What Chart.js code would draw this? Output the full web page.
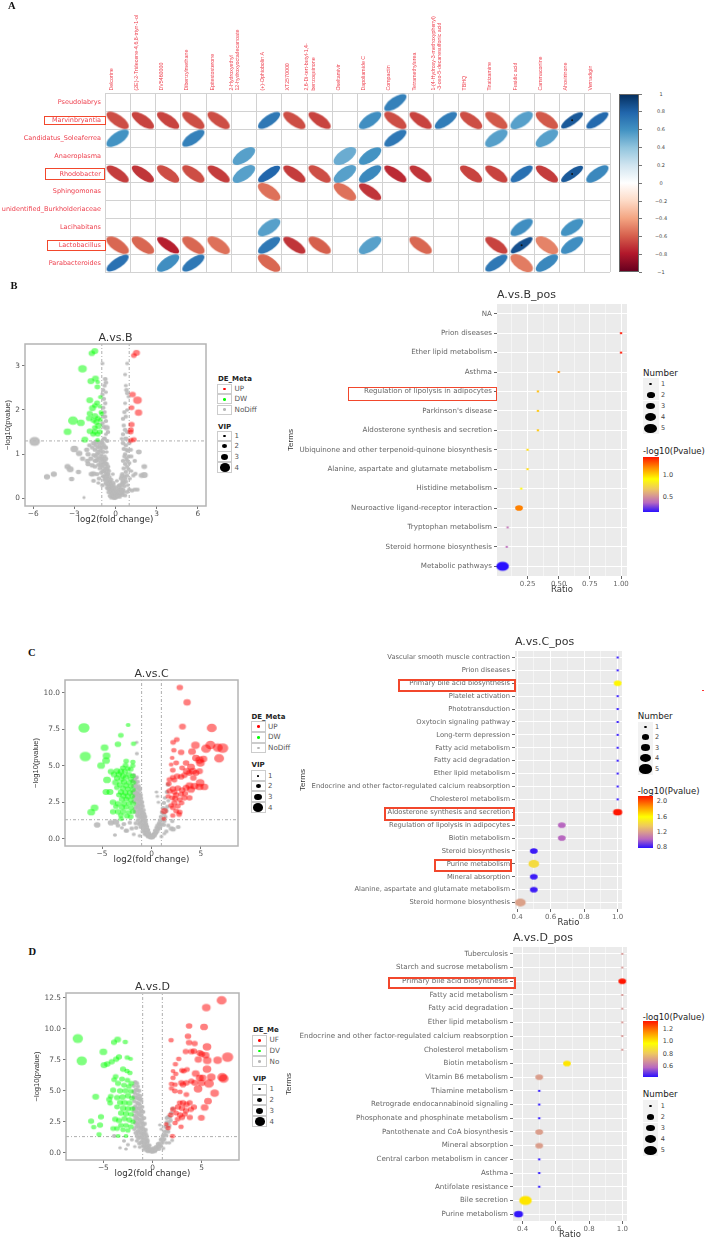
<!DOCTYPE html>
<html lang="en">
<head>
<meta charset="UTF-8">
<title>Correlation, volcano and pathway plots</title>
<script src="https://cdnjs.cloudflare.com/ajax/libs/Chart.js/4.4.1/chart.umd.min.js"></script>
<style>
  html, body { margin: 0; padding: 0; background: #fff; overflow: hidden; }
  #page { position: relative; width: 707px; height: 1239px; overflow: hidden; font-family: "DejaVu Sans", sans-serif; }
  #page canvas { position: absolute; }
  .t { position: absolute; white-space: nowrap; line-height: 1; transform: translateY(-50%); color: #333; }
  .b { position: absolute; box-sizing: border-box; }
</style>
</head>
<body>
<div id="page"></div>
<script>
// ---------- panel A ----------
const corrCols = ['Delcorine', '(2E)-2-Tridecene-4,6,8-triyn-1-ol', 'DV5460000', 'Dibenzylmethane', 'Epitestosterone',
  '2-Hydroxyethyl\n12-hydroxyoctadecanoate', '(+)-Ophiobolin A', 'XT2570000', '2,6-Di-tert-butyl-1,4-\nbenzoquinone', 'Oseltamivir',
  'Dapoliamide C', 'Compactin', 'Tetramethylurea', '1-(4-Hydroxy-3-methoxyphenyl)\n-3-oxo-5-decanesulfonic acid', 'TBHQ',
  'Tiratizamine', 'Fusidic acid', 'Cammaconine', 'Ahovirinone', 'Vernadigin'];
const corrRows = ['Pseudolabrys', 'Marvinbryantia', 'Candidatus_Soleaferrea', 'Anaeroplasma', 'Rhodobacter', 'Sphingomonas',
  'unidentified_Burkholderiaceae', 'Lacihabitans', 'Lactobacillus', 'Parabacteroides'];
const rPseudolabrys = [0,0,0,0,0,0,0,0,0,0,0,.68,0,0,0,0,0,0,0,0];
const rMarvinbryantia = [-.65,-.68,-.68,-.65,-.65,0,.72,-.65,-.68,0,.62,-.65,-.68,.7,-.65,-.62,.55,-.62,.85,.78];
const rCandidatus = [.6,0,0,.68,0,0,0,0,0,0,0,.72,0,0,0,.55,0,.55,0,0];
const rAnaeroplasma = [0,0,0,0,0,.55,0,0,0,.5,.6,0,0,0,0,0,0,0,0,0];
const rRhodobacter = [-.7,-.72,-.65,-.65,-.7,.55,.8,-.7,-.65,.55,.65,-.75,-.72,0,-.68,-.68,.75,-.7,.85,.65];
const rSphingomonas = [0,0,0,0,0,0,-.55,0,0,-.55,-.72,0,0,0,0,0,0,0,0,0];
const rBurkholderiaceae = [0,0,0,0,0,0,0,0,0,0,0,0,0,0,0,0,0,0,0,0];
const rLacihabitans = [0,0,0,0,0,0,.55,0,0,0,0,0,0,0,0,0,.62,0,.6,0];
const rLactobacillus = [-.58,-.58,-.78,-.58,-.55,0,.72,-.72,-.6,0,.55,0,-.58,0,0,-.68,.88,-.5,.62,0];
const rParabacteroides = [.75,0,.62,.72,0,0,-.58,0,0,0,0,0,0,0,0,.72,-.52,.65,0,0];
const corrSig = [['Ahovirinone', 'Marvinbryantia'], ['Ahovirinone', 'Rhodobacter'], ['Fusidic acid', 'Lactobacillus']];
const corrTicks = ['1', '0.8', '0.6', '0.4', '0.2', '0', '−0.2', '−0.4', '−0.6', '−0.8', '−1'];

// ---------- volcano points: [log2 fold change, -log10 p, VIP] ----------
const bUp = [[1.53,3.29,2.6],[1.34,3.23,2],[1.24,2.35,2.4],[1.6,2.22,3.4],[1.17,2.05,2],[1.68,1.94,2.8],[1.17,1.67,2.2],[1.12,1.55,2],[1.1,1.5,2],[1.34,1.33,2],[1.12,1.31,2]];
const bDown = [[-1.51,3.33,2.6],[-1.73,3.28,2.4],[-2.41,2.93,3.4],[-1.46,2.71,2.6],[-1.8,2.65,2.6],[-1.3,2.63,1.6],[-1.32,2.52,2],[-1.1,2.29,1.6],[-1.88,2.22,2.6],[-1.34,2.16,2],[-1.15,2.08,1.6],[-1.68,2.04,2.6],[-1.5,2.1,2],[-1.07,1.95,1.6],[-1.88,1.92,2.2],[-1.02,1.91,1.6],[-3.1,1.76,4],[-2.53,1.71,3],[-1.92,1.81,2.4],[-1.51,1.86,2.6],[-1.27,1.81,2],[-1.39,1.73,2.4],[-1.1,1.78,1.6],[-1.24,1.64,2.6],[-1.51,1.6,2],[-1.6,1.76,2],[-3.5,1.51,3],[-1.87,1.52,2.4],[-1.5,1.51,2.2],[-1.14,1.51,2],[-1.63,1.45,2],[-1.3,1.45,2],[-2.24,1.33,2.6],[-1.31,1.32,1.6]];
const bNone = [[-5.9,1.29,4.4],[-3,1.12,3],[-2.65,1.02,2.4],[-3.5,.72,2.2],[-3.3,.66,2.6],[-4.5,.55,2.2],[-5,.49,2.2],[-3.2,.44,1.8],[-2.7,.6,1.8],[2.1,.72,2],[2.1,.53,2.6],[1.9,.52,2],[-2.3,.02,.8],[-.95,3.05,1.2],[.85,3.05,1.2],[.7,2.8,1.2],[-.75,2.7,1.6],[-.7,2.62,1.6],[-.8,2.55,1.4],[-.9,2.45,1.4],[-.95,2.35,1.4],[-.7,2.4,1.2],[-.85,2.25,1.4],[.8,2.45,1.6],[.85,2.38,1.4],[.95,2.3,1.2],[.75,2.55,1.2],[.7,2.15,1.2],[-.75,2.15,1.4],[-.9,2.05,1.6],[-.8,1.95,1.4],[.65,1.95,1.4],[.75,1.85,1.4],[.55,1.8,1.4],[.85,2,1.2],[-.85,1.85,1.6],[-.7,1.75,1.4],[-.95,1.7,1.6],[-.65,1.6,2.2],[.6,1.65,1.4],[.7,1.55,1.6],[.85,1.5,1.4],[.55,1.45,1.4],[.45,1.35,1.2],[.75,1.35,1.8],[-.7,1.45,1.2],[-.85,1.35,1.6],[-.6,1.3,1.4],[-.95,1.25,1.6],[-1.2,1.25,1.6],[-1,1.28,1.6],[-.85,1.2,1.6],[-1.3,1.15,1.6],[-1.5,1.1,1.6],[-1.1,1.08,1.6],[-.9,1.05,1.6],[-1.35,1,1.6],[-.75,1.15,1.6],[-1.05,.98,1.6],[-1.6,.98,1.6],[-.8,.95,1.6],[-1.2,.92,1.6],[-.95,.88,1.6],[-1.4,.85,1.6],[-.7,.9,1.6],[-1.1,.82,1.6],[-.85,.8,1.6],[-1.25,.76,1.6],[-.65,.78,1.6],[-.95,.72,1.6],[-.75,.68,1.6],[-1.5,.72,1.6],[-1.15,.68,1.6],[-.6,.65,1.6],[-.85,.62,1.6],[-1.05,.58,1.6],[-.7,.58,1.6],[-1.6,.56,2],[-1.75,.55,2],[-.55,.55,1.6],[-.9,.5,1.6],[-.65,.48,1.6],[-.45,.48,1.6],[-1.2,.45,1.6],[-.8,.42,1.6],[-.55,.4,1.6],[-.4,.38,1.6],[-.7,.35,1.6],[-.95,.3,1.6],[-.5,.3,1.6],[-.3,.3,1.6],[-.6,.24,1.6],[-.4,.2,1.6],[-.25,.22,1.6],[-.5,.14,1.6],[-.3,.12,1.6],[-.15,.15,1.6],[-.4,.06,1.6],[-.2,.05,1.6],[-.08,.08,1.6],[0,.02,1.6],[-.3,.02,1.6],[-.1,.01,1.6],[-2,1,1.8],[-2.1,1.1,1.8],[-2.05,.85,1.8],[-1.8,.9,1.8],[-1.7,.75,1.8],[-2,.78,1.8],[-2.4,.9,1.8],[.15,.05,1.6],[.3,.04,1.6],[.1,.1,1.6],[.25,.15,1.6],[.4,.12,1.6],[.5,.08,1.6],[.35,.22,1.6],[.55,.2,1.6],[.2,.2,1.6],[.45,.3,1.6],[.65,.28,1.6],[.3,.3,1.6],[.55,.4,1.6],[.75,.38,1.6],[.4,.45,1.6],[.65,.5,1.6],[.85,.52,1.4],[.5,.55,1.6],[.75,.6,1.4],[.6,.68,1.6],[.95,.66,1.4],[.85,.72,1.4],[.7,.78,1.4],[1,.8,1.4],[.55,.85,1.4],[.8,.9,1.4],[.95,.95,1.4],[1.15,.95,1.4],[.7,1,1.4],[.9,1.08,1.6],[.6,1.12,1.4],[1.1,1.1,1.6],[.75,1.2,1.6],[1,1.25,1.4],[.55,1.25,1.6],[1.4,.85,1.4],[1.3,.52,1.4],[1.45,.56,1.4],[1.4,.2,1.4],[1.2,.18,1.4],[1,.2,1.4],[.85,.15,1.4],[.6,.15,1.4],[.7,.07,1.4],[1.7,1.05,2],[-.1,.2,1.6],[.05,.25,1.4],[-.15,.35,1.4],[.1,.4,1.2],[-.2,.55,1.2]];
const bNoneDense = [[-1.4,1.28,1.8],[-1.15,1.18,1.8],[-1.45,1.2,1.6],[-1.25,1.05,1.8],[-1,1.15,1.8],[-1.45,.95,1.6],[-1.3,.88,1.8],[-1,.9,1.8],[-1.05,.75,1.8],[-.8,.85,1.8],[-.9,.62,1.8],[-.75,.78,1.8],[-.65,.68,1.8],[-.78,.5,1.8],[-.55,.72,1.6],[-.6,.55,1.8],[-.5,.62,1.6],[-.7,.45,1.8],[-.35,.42,1.8],[-.45,.35,1.8],[-.6,.32,1.8],[-.35,.28,1.8],[-.5,.22,1.8],[-.2,.3,1.8],[-.3,.18,1.8],[-.15,.25,1.6],[-.2,.1,2],[-.05,.15,1.8],[.05,.05,2],[.2,.08,2],[.08,.16,1.8],[.3,.13,2],[.4,.2,1.8],[.45,.15,1.8],[.25,.28,1.6],[.5,.35,1.6],[.6,.35,1.6],[.45,.5,1.6],[.7,.45,1.6],[-1.6,.4,1.6],[-1.35,.55,1.6],[-1.5,.85,1.6],[-1.7,1.15,1.6],[-1.9,1.2,1.6],[-1.6,1.25,1.8],[-1.25,.35,1.2],[.85,.85,1.4],[.65,.95,1.4],[.8,1.1,1.4],[1.05,.45,1.2],[.9,.3,1.2],[1.15,.62,1.2],[1.6,.2,1.4],[-.7,1.15,1.4],[-.65,1.05,1.2],[-.78,1.35,1.4],[-.55,1.5,1.4],[-.85,1.62,1.4],[-.75,1.85,1.4]];

const cUp = [[2.86,10.36,2.4],[3.6,9.34,2.8],[3.13,7.68,2.6],[6.09,7.59,4],[2.56,6.79,2],[2.19,6.6,2],[4.44,6.4,3.4],[5.96,6.42,4],[5.52,6.17,4],[7.2,6.2,4.6],[6.7,6.24,4],[4.1,5.97,3],[2.26,6.06,1.8],[3,5.92,2.4],[5.25,5.47,3],[6.84,5.51,4],[2.09,5.54,1.6],[4.5,5.53,3],[4.85,5.38,3.4],[4.95,5.19,3.4],[3.5,5.19,2.4],[2.5,5.19,2],[1.99,5.08,1.6],[4,4.92,3],[3.1,4.85,2],[2.15,4.69,2],[3.57,4.62,3],[4.18,4.62,3],[4.85,4.62,2.6],[3.84,4.51,2.6],[4.5,4.51,2.6],[2.6,4.28,2.4],[3,4.24,2.4],[2.15,4.2,2],[3.33,4.35,2.4],[4.24,4.17,2.4],[1.82,4.05,2],[2.32,4.01,2],[1.75,3.76,2],[4.92,3.83,3.4],[5.35,3.55,3],[4.85,3.55,3],[3.84,3.64,3],[4.34,3.6,3],[3.5,3.49,2.6],[2.66,3.46,2.4],[2.15,3.42,2.4],[1.82,3.26,2.2],[2.32,3.19,2.2],[4,3.37,3],[3.1,3.33,2.4],[3.84,2.8,2.2],[3.33,2.8,2.2],[2.5,3,2.2],[2.1,2.8,2],[2.85,2.68,2],[2.32,2.45,2.2],[2,2.27,2],[3.03,2.45,2],[2.66,2.23,2],[2.15,2.12,2],[1.3,1.89,2.6],[2.5,1.89,2],[2.85,1.82,2],[2.8,1.66,2],[2.15,1.59,1.8],[1.25,1.37,1.6],[3,3.05,2],[2.4,2.75,2.2],[3.4,3.1,2.2],[1.7,2.9,1.8]];
const cDown = [[-6.84,7.59,4.6],[-2.36,7.79,1.6],[-3.1,7.08,2],[-1.82,6.51,1.8],[-3.4,6.47,2.4],[-4.75,6.24,3],[-6.7,5.63,4.6],[-4.55,5.69,3],[-4.6,5.35,3],[-5.1,5.01,3],[-2.56,5.31,2],[-1.89,5.26,1.8],[-2.63,5.03,2],[-1.9,5,1.8],[-2.9,4.85,2],[-2.4,4.8,2],[-2.1,4.75,2],[-4.1,4.6,2.4],[-3.5,4.65,2.4],[-3.1,4.6,2.4],[-2.7,4.6,2.2],[-3.8,4.4,2.4],[-3.3,4.4,2.4],[-2.9,4.3,2.2],[-2.3,4.4,2.2],[-1.9,4.3,2],[-2.6,4.2,2.2],[-3.5,4.15,2.2],[-2.1,4.1,2],[-3.05,4.05,2],[-4.5,4.03,3],[-3.64,3.85,2.6],[-2.8,3.9,2.2],[-2.3,3.85,2],[-1.85,3.85,2],[-3.2,3.7,2.2],[-2.6,3.65,2.2],[-2.1,3.6,2],[-3.5,3.5,2],[-2.9,3.45,2.2],[-2.4,3.4,2],[-1.9,3.35,2],[-3.1,3.2,2.2],[-2.65,3.15,2.2],[-2.2,3.15,2.2],[-4.6,3.2,2.6],[-4.2,3.2,2.6],[-3.3,3,2],[-2.85,2.95,2.2],[-2.4,2.9,2.2],[-1.95,2.9,2],[-3,2.7,2.2],[-2.55,2.7,2],[-2.1,2.65,2],[-3.9,2.5,2.4],[-3.4,2.4,2.2],[-2.8,2.4,2.2],[-2.3,2.4,2],[-1.85,2.4,2],[-3.6,2.2,2],[-3,2.15,2.2],[-2.55,2.15,2],[-2.05,2.1,2],[-3.9,1.85,2.2],[-3.4,1.85,2.2],[-2.85,1.85,2.2],[-2.3,1.8,2],[-1.9,1.85,2],[-3.1,1.6,2],[-2.5,1.55,2],[-2.1,1.5,2],[-3.06,1.37,1.8],[-5.76,2.12,3],[-6.1,1.82,3]];
const cNone = [[-1.48,5.83,1.2],[-1.5,6.6,1],[-1.8,4.35,1.4],[-1.5,4.2,1.4],[-1.7,4,1.4],[-1.4,3.9,1.4],[-1.6,3.75,1.4],[-1.85,3.6,1.4],[-1.3,3.6,1.4],[-1.5,3.45,1.4],[-1.75,3.3,1.4],[-1.2,3.3,1.4],[-1.45,3.15,1.4],[-1.7,3,1.4],[-1.1,3,1.4],[-1.35,2.85,1.4],[-1.6,2.7,1.4],[-1.05,2.75,1.4],[-1.25,2.6,1.4],[-1.5,2.45,1.4],[-.95,2.5,1.4],[-1.15,2.35,1.4],[-1.4,2.2,1.4],[-.9,2.2,1.4],[-1.05,2.05,1.4],[-1.3,1.95,1.4],[-.8,1.95,1.4],[-.95,1.8,1.4],[-1.2,1.7,1.4],[-.75,1.7,1.4],[-.9,1.55,1.4],[-1.1,1.45,1.4],[-.65,1.45,1.4],[-.8,1.3,1.4],[-1,1.2,1.4],[-.6,1.2,1.4],[-.75,1.05,1.4],[-.55,1,1.4],[-.9,.95,1.4],[-.65,.85,1.4],[-.45,.8,1.4],[-.8,.7,1.4],[-.55,.65,1.4],[-.35,.6,1.4],[-.65,.5,1.4],[-.45,.45,1.4],[-.25,.4,1.4],[-.5,.3,1.4],[-.3,.25,1.4],[-.15,.25,1.4],[-.35,.15,1.4],[-.15,.1,1.4],[0,.1,1.4],[.1,.2,1.4],[.15,.1,1.4],[.3,.2,1.4],[-1.6,3.25,1.4],[-1.25,3.05,1.4],[-1.55,2.95,1.4],[-1.8,2.85,1.2],[-1.3,2.35,1.4],[-1.55,2.2,1.4],[-1.65,1.85,1.4],[-1.45,1.6,1.4],[-1.4,1.25,1.4],[-1.25,1,1.4],[-1.6,1.05,1.4],[-1.1,.8,1.4],[-1.55,.75,1.4],[-.9,.5,1.4],[-.7,.3,1.2],[.25,.35,1.4],[.45,.4,1.4],[.35,.55,1.4],[.6,.55,1.4],[.5,.75,1.4],[.75,.7,1.4],[.6,.9,1.4],[.9,.85,1.4],[.75,1.05,1.4],[1.05,1,1.4],[.85,1.25,1.4],[1.25,.95,1.4],[.95,1.5,1.4],[1.3,1.2,1.4],[1.05,1.8,1.4],[1.4,1.5,1.4],[1.15,2.1,1.4],[1.5,1.9,1.4],[1.25,2.45,1.4],[1.6,2.2,1.4],[1.35,2.8,1.2],[1.7,2.6,1.2],[1.55,3.2,1.4],[1.65,3.7,1.4],[.5,3.2,1],[.6,2.9,1],[.7,2.5,1],[-5.5,.95,2.4],[-4.1,1.1,2.4],[-3.6,1.15,2.4],[-3.4,.9,1.6],[-2.8,1,1.6],[-2.5,.55,1.6],[-3.7,.25,1.2],[-2.6,.55,1.4],[-2,.7,1.6],[-1.8,.3,1.2],[-1.2,.2,1.2],[-2.2,1.1,1.4],[-3,.75,1.2],[2,.7,1.8],[2.2,.65,1.8],[2.7,.8,1.6],[2.1,1.2,1.4],[1.7,.9,1.4],[1.5,.5,1.4],[1,.15,1.2],[1.3,.35,1.2]];
const cNoneDense = [[-1.65,4.15,1.6],[-1.9,3.95,1.6],[-1.55,3.55,1.6],[-1.25,3.45,1.6],[-1.9,3.15,1.6],[-1.5,3.1,1.6],[-1.2,2.85,1.6],[-1.45,2.7,1.6],[-1.8,2.55,1.6],[-1.1,2.55,1.6],[-1.3,2.15,1.6],[-1.65,2.05,1.6],[-1,2.3,1.6],[-1.15,1.9,1.6],[-.85,1.75,1.6],[-1.45,1.8,1.6],[-1.05,1.6,1.6],[-.7,1.55,1.6],[-1.3,1.5,1.6],[-.9,1.35,1.6],[-1.15,1.1,1.6],[-.7,1.2,1.6],[-.85,.85,1.6],[-.55,.9,1.6],[-.7,.6,1.6],[-.45,.6,1.6],[-.6,.38,1.6],[-.35,.35,1.6],[-.4,.22,1.6],[-.2,.18,1.6],[-.05,.12,1.8],[.05,.15,1.8],[.2,.25,1.6],[.35,.3,1.6],[.5,.45,1.6],[.65,.7,1.6],[.85,1,1.6],[1.15,1.3,1.6],[1.25,1.7,1.6],[1.4,2.05,1.6]];

const dUp = [[7.03,12.31,4],[5.47,11.72,3.4],[3.72,10.24,2.4],[5.24,10.16,3],[1.89,9.09,1.8],[3.61,9.41,2.4],[3.72,8.9,2.4],[4.29,8.82,2.2],[5.54,8.55,3.4],[3.38,8.17,2.2],[3.95,8.17,2.4],[4.22,8.2,2.4],[4.8,8.06,2.6],[5,7.96,2.6],[5.4,7.88,3],[7.64,7.72,4.6],[2.67,7.58,1.8],[4.66,7.53,2.8],[5.57,7.45,3.4],[6.62,7.47,3.4],[2.33,7.15,1.8],[5.54,6.75,3.4],[3.51,6.72,2],[3,6.64,2],[3.18,6.59,2],[2.09,6.59,1.6],[2.36,6.37,1.8],[4.39,6.4,3],[4.8,6.05,3],[5.98,6.1,3.4],[7.09,6.1,4],[7.23,5.99,4],[5.1,6.05,2.8],[2.09,6.05,1.8],[3.95,5.78,2.2],[1.93,5.56,1.8],[2.94,5.65,2.4],[3.45,5.65,2.4],[4.29,5.65,2.6],[4.97,5.65,3],[5.74,5.59,4],[3.1,5.5,2.4],[2.3,5.5,1.8],[4.63,5.16,3.4],[6.32,4.81,3.4],[1.93,5.2,1.8],[2.27,4.98,2],[2.8,4.92,1.8],[3.45,4.7,2],[5.64,4.17,3],[5.3,3.66,3],[4.97,2.82,2.6],[4.22,3.68,2.2],[3.78,4.03,2.2],[3.45,3.9,2.4],[3.1,4.03,2.4],[2.77,4.03,2],[2.1,3.5,2.2],[2.6,3.7,2.2],[3,3.6,2.4],[3.4,3.4,2.2],[3.9,3.5,2.2],[2.4,3.2,2],[2.8,3.05,2.2],[3.3,3.1,2],[1.85,3.05,2],[2.55,2.7,2],[3,2.85,2.2],[3.8,2.85,2.2],[2.3,2.4,1.8],[1.6,2,1.8],[2.03,1.34,1.8],[2.9,2.1,1.8],[1.4,2.3,1.6]];
const dDown = [[-7.6,9.22,4.2],[-7.2,7.42,4.2],[-3.55,9.14,2.6],[-3.92,8.92,2.2],[-2.77,8.95,1.8],[-5,8.15,3],[-3.41,7.74,2.2],[-2.57,7.69,1.8],[-2.23,7.58,1.6],[-3.7,7.55,2.2],[-4.15,7.35,2.2],[-4.6,7.17,2.4],[-4.93,7.07,2.6],[-3,6.75,2.2],[-2.6,6.6,1.8],[-2.3,6.45,1.8],[-3.75,6.15,2],[-3.9,5.9,2],[-3.1,5.95,2],[-2.55,5.85,2],[-2.15,5.6,2],[-3.5,5.6,2.2],[-2.9,5.45,2],[-2.4,5.35,2],[-4,5.05,2.2],[-3.3,5,2.2],[-2.75,5,2.2],[-2.2,4.95,2],[-5.78,4.52,2.6],[-4.25,4.55,2],[-4.4,4.3,2.2],[-3.6,4.45,2.2],[-3.05,4.5,2.4],[-2.5,4.6,2.2],[-2.1,4.4,2],[-4.3,4,2],[-3.3,4.05,2.2],[-2.85,4.05,2.4],[-2.35,4,2.2],[-3.6,3.7,2],[-3,3.6,2.4],[-2.5,3.55,2.2],[-2.05,3.55,2],[-3.2,3.2,2.2],[-2.7,3.15,2.2],[-2.2,3.1,2],[-3.8,2.7,2.2],[-3.4,2.6,2.2],[-2.85,2.75,2.2],[-2.35,2.65,2.2],[-2,2.5,1.8],[-3.2,2.2,2],[-2.7,2.2,2],[-2.2,2.1,2],[-4,1.95,2],[-3.6,1.95,2],[-3,1.85,1.8],[-2.5,1.8,1.8],[-5.24,2.9,2.2],[-6.25,2.55,2.2],[-5.98,2.07,1.8],[-5.34,2.23,2.2],[-5.44,1.48,1.8],[-3.5,1.35,1.6],[-2.7,1.35,1.6]];
const dNone = [[-1.75,5.7,1.4],[-1.9,5.4,1.4],[-1.5,5.35,1.4],[-1.7,5.1,1.4],[-1.35,5,1.4],[-1.8,4.8,1.4],[-1.5,4.7,1.4],[-1.25,4.6,1.4],[-1.7,4.45,1.4],[-1.4,4.35,1.4],[-1.85,4.15,1.4],[-1.15,4.2,1.4],[-1.55,4.05,1.4],[-1.3,3.9,1.4],[-1.75,3.75,1.4],[-1.05,3.7,1.4],[-1.45,3.6,1.4],[-1.2,3.4,1.4],[-1.65,3.3,1.4],[-.95,3.3,1.4],[-1.4,3.1,1.4],[-1.85,3,1.4],[-1.1,2.95,1.4],[-1.6,2.8,1.4],[-.85,2.8,1.4],[-1.3,2.65,1.4],[-1.05,2.45,1.4],[-1.75,2.4,1.4],[-1.5,2.25,1.4],[-.8,2.35,1.4],[-1.2,2.1,1.4],[-.95,1.95,1.4],[-1.85,1.9,1.4],[-1.5,1.75,1.4],[-.7,1.85,1.4],[-1.15,1.6,1.4],[-.85,1.5,1.4],[-1.6,1.35,1.4],[-1.3,1.25,1.4],[-.6,1.35,1.4],[-1,1.1,1.4],[-.75,1.05,1.4],[-2.1,1.05,1.2],[-1.6,.95,1.2],[-.5,.95,1.4],[-1.2,.8,1.4],[-.85,.7,1.4],[-.55,.6,1.4],[-2.5,.65,1.2],[-3.3,.4,1],[-2.7,.3,1],[-1.8,.5,1],[-1.3,.45,1.2],[-.7,.35,1.4],[-.4,.35,1.4],[-.9,.25,1.2],[-.25,.15,1.4],[-.45,.12,1.4],[-.1,.08,1.4],[.05,.1,1.4],[.25,.12,1.4],[.15,.25,1.4],[.4,.3,1.4],[.65,.3,1.4],[.5,.5,1.4],[.85,.55,1.4],[1.1,.35,1.2],[.7,.75,1.4],[1,.8,1.4],[1.4,.8,1.2],[.85,1.05,1.4],[1.2,1.1,1.4],[1.7,.8,1.2],[1.05,1.35,1.4],[1.4,1.4,1.4],[1.2,1.7,1.4],[1.6,1.7,1.4],[1.3,2.1,1.4],[1.7,2.2,1.6],[1.45,2.45,1.6],[1.85,2.6,1.4],[1.6,2.9,1.4],[1.9,3.2,1.4],[2.05,3.55,1.4],[.9,1.9,1],[.75,2.25,1],[2,1,1.2],[-3.9,1.35,1.4],[-2.9,.95,1.2],[-1,.55,1.2],[-.3,.6,1.2],[-.6,.15,1.2]];
const dNoneDense = [[-1.6,5.6,1.6],[-1.55,5.05,1.6],[-1.9,4.95,1.6],[-1.6,4.45,1.6],[-1.25,4.35,1.6],[-1.9,4.5,1.6],[-1.45,3.95,1.6],[-1.9,3.6,1.6],[-1.6,3.55,1.6],[-1.3,3.6,1.6],[-1.1,3.3,1.6],[-1.5,3.25,1.6],[-1.85,3.35,1.6],[-1.25,3.05,1.6],[-1.7,2.95,1.6],[-1.45,2.75,1.6],[-1.05,2.7,1.6],[-1.75,2.7,1.6],[-1.25,2.4,1.6],[-1.6,2.45,1.6],[-.95,2.25,1.6],[-1.4,2.05,1.6],[-1.65,2.1,1.6],[-1.1,2,1.6],[-1.25,1.8,1.6],[-.85,1.75,1.6],[-1.7,1.6,1.6],[-1.4,1.55,1.6],[-1,1.5,1.6],[-.7,1.55,1.6],[-1.15,1.3,1.6],[-.85,1.25,1.6],[-1.45,1.15,1.6],[-.6,1.1,1.6],[-1.05,.9,1.6],[-.75,.85,1.6],[-1.35,.75,1.4],[-.55,.8,1.6],[-.85,.5,1.6],[-.6,.45,1.6],[-.4,.55,1.6],[-.3,.3,1.6],[-.5,.25,1.6],[-.15,.28,1.6],[0,.2,1.6],[.1,.35,1.6],[.3,.22,1.6],[.35,.45,1.6],[.55,.7,1.4],[.7,.5,1.4],[.95,1.1,1.4],[1.1,1,1.4],[1.25,1.45,1.6],[1.45,1.75,1.6],[1.5,2.1,1.6],[1.6,2.45,1.6],[1.75,2.85,1.6],[1.45,2.8,1.4]];

// ---------- pathway dot plots ----------
const bTerms = ['NA', 'Prion diseases', 'Ether lipid metabolism', 'Asthma', 'Regulation of lipolysis in adipocytes', "Parkinson's disease",
  'Aldosterone synthesis and secretion', 'Ubiquinone and other terpenoid-quinone biosynthesis', 'Alanine, aspartate and glutamate metabolism',
  'Histidine metabolism', 'Neuroactive ligand-receptor interaction', 'Tryptophan metabolism', 'Steroid hormone biosynthesis', 'Metabolic pathways'];
const bRatio = [null, 1, 1, .5, .333, .333, .333, .25, .25, .2, .182, .09, .083, .05];
const bNumber = [null, 1, 1, 1, 1, 1, 1, 1, 1, 1, 2, 1, 1, 5];
const bPvalue = [null, 1.42, 1.42, 1.17, 1.07, 1.05, 1.05, 1, 1, .93, 1.2, .42, .4, .17];

const cTerms = ['Vascular smooth muscle contraction', 'Prion diseases', 'Primary bile acid biosynthesis', 'Platelet activation', 'Phototransduction',
  'Oxytocin signaling pathway', 'Long-term depression', 'Fatty acid metabolism', 'Fatty acid degradation', 'Ether lipid metabolism',
  'Endocrine and other factor-regulated calcium reabsorption', 'Cholesterol metabolism', 'Aldosterone synthesis and secretion',
  'Regulation of lipolysis in adipocytes', 'Biotin metabolism', 'Steroid biosynthesis', 'Purine metabolism', 'Mineral absorption',
  'Alanine, aspartate and glutamate metabolism', 'Steroid hormone biosynthesis'];
const cRatio = [1, 1, 1, 1, 1, 1, 1, 1, 1, 1, 1, 1, 1, .667, .667, .5, .5, .5, .5, .42];
const cNumber = [1, 1, 2, 1, 1, 1, 1, 1, 1, 1, 1, 1, 3, 2, 2, 2, 4, 2, 2, 4];
const cPvalue = [.78, .78, 1.6, .78, .78, .78, .78, .78, .78, .78, .78, .78, 2.12, 1, 1, .8, 1.42, .8, .8, 1.2];

const dTerms = ['Tuberculosis', 'Starch and sucrose metabolism', 'Primary bile acid biosynthesis', 'Fatty acid metabolism', 'Fatty acid degradation',
  'Ether lipid metabolism', 'Endocrine and other factor-regulated calcium reabsorption', 'Cholesterol metabolism', 'Biotin metabolism',
  'Vitamin B6 metabolism', 'Thiamine metabolism', 'Retrograde endocannabinoid signaling', 'Phosphonate and phosphinate metabolism',
  'Pantothenate and CoA biosynthesis', 'Mineral absorption', 'Central carbon metabolism in cancer', 'Asthma', 'Antifolate resistance',
  'Bile secretion', 'Purine metabolism'];
const dRatio = [1, 1, 1, 1, 1, 1, 1, 1, .667, .5, .5, .5, .5, .5, .5, .5, .5, .5, .417, .375];
const dNumber = [1, 1, 2, 1, 1, 1, 1, 1, 2, 2, 1, 1, 1, 2, 2, 1, 1, 1, 5, 3];
const dPvalue = [.68, .68, 1.32, .68, .68, .68, .68, .68, 1, .7, .42, .42, .42, .7, .7, .42, .42, .42, 1, .43];

const rdBu = ['#67001f', '#b2182b', '#d6604d', '#f4a582', '#fddbc7', '#ffffff', '#d1e5f0', '#92c5de', '#4393c3', '#2166ac', '#053061'];
const heat = [[0, '#2a10ff'], [.17, '#b868c0'], [.3, '#d89a90'], [.42, '#eec860'], [.6, '#ffff00'], [.8, '#ff9000'], [1, '#ff1500']];

// ---------- helpers ----------
const page = document.getElementById('page');
const FONT = '"DejaVu Sans", sans-serif';
const NARROW = '"Liberation Sans", sans-serif';

function text(x, y, s, css) {
  const el = document.createElement('div');
  el.className = 't';
  el.textContent = s;
  el.style.cssText = 'left:' + x + 'px;top:' + y + 'px;' + (css || '');
  page.appendChild(el);
  return el;
}
function box(x, y, w, h, css) {
  const el = document.createElement('div');
  el.className = 'b';
  el.style.cssText = 'left:' + x + 'px;top:' + y + 'px;width:' + w + 'px;height:' + h + 'px;' + (css || '');
  page.appendChild(el);
  return el;
}
function redBox(x0, y0, x1, y1, w) {
  box(x0, y0, x1 - x0, y1 - y0, 'border:' + (w || 1.5) + 'px solid #f2472c;z-index:5;');
}
function hexRgb(h) {
  return [1, 3, 5].map(i => parseInt(h.substr(i, 2), 16));
}
function mix(a, b, t) {
  const p = hexRgb(a), q = hexRgb(b);
  return 'rgb(' + p.map((v, i) => Math.round(v + (q[i] - v) * t)).join(',') + ')';
}
function rdBuColor(r) {
  const pos = (r + 1) / 2 * (rdBu.length - 1);
  const i = Math.min(Math.floor(pos), rdBu.length - 2);
  return mix(rdBu[i], rdBu[i + 1], pos - i);
}
function heatColor(t) {
  t = Math.max(0, Math.min(1, t));
  for (let i = 1; i < heat.length; i++) {
    if (t <= heat[i][0]) return mix(heat[i - 1][1], heat[i][1], (t - heat[i - 1][0]) / (heat[i][0] - heat[i - 1][0]));
  }
  return heat[heat.length - 1][1];
}
const ovalCache = {};
function oval(rx, ry, color, angle) {
  const key = [rx.toFixed(2), ry.toFixed(2), color, angle || 0].join('|');
  if (ovalCache[key]) return ovalCache[key];
  const c = document.createElement('canvas');
  c.width = c.height = Math.ceil(Math.max(rx, ry)) * 2 + 2;
  const g = c.getContext('2d');
  g.fillStyle = color;
  g.beginPath();
  g.ellipse(c.width / 2, c.height / 2, rx, ry, angle || 0, 0, Math.PI * 2);
  g.fill();
  ovalCache[key] = c;
  return c;
}
// pins an axis to a fixed thickness so the plot area lands where it should
function pin(size) {
  return s => {
    if (s.isHorizontal()) s.height = size; else s.width = size;
    s.paddingLeft = s.paddingRight = s.paddingTop = s.paddingBottom = 0;
  };
}
function setTicks(list) {
  return s => { s.ticks = list.map(value => ({ value })); };
}
function addCanvas(x, y, w, h) {
  const c = document.createElement('canvas');
  c.width = w; c.height = h;
  c.style.left = x + 'px'; c.style.top = y + 'px';
  page.appendChild(c);
  return c;
}
const framePlugin = {
  id: 'frame',
  afterDraw(chart) {
    const a = chart.chartArea, g = chart.ctx;
    g.save(); g.strokeStyle = '#b4b4b4'; g.lineWidth = 1.5;
    g.strokeRect(a.left, a.top, a.width, a.height);
    g.restore();
  }
};
const panelPlugin = {
  id: 'panel',
  beforeDraw(chart) {
    const a = chart.chartArea, g = chart.ctx;
    g.save(); g.fillStyle = '#ebebeb';
    g.fillRect(a.left, a.top, a.width, a.height);
    g.restore();
  }
};

// ---------- panel A chart ----------
const corrValues = [rPseudolabrys, rMarvinbryantia, rCandidatus, rAnaeroplasma, rRhodobacter, rSphingomonas, rBurkholderiaceae, rLacihabitans, rLactobacillus, rParabacteroides];
const corrPoints = [];
corrValues.forEach((row, j) => row.forEach((r, i) => {
  if (r !== 0) corrPoints.push({ x: corrCols[i], y: corrRows[j], r });
}));
new Chart(addCanvas(0, 0, 614, 276), {
  type: 'scatter',
  data: {
    datasets: [
      { data: corrSig.map(p => ({ x: p[0], y: p[1] })), pointRadius: 1, pointBackgroundColor: '#111', pointBorderWidth: 0 },
      {
        data: corrPoints,
        pointRadius: 13,
        pointStyle: ctx => {
          const r = ctx.raw.r;
          return oval(13, 3.4 + 6 * (1 - Math.abs(r)), rdBuColor(r), r > 0 ? -Math.PI / 5.2 : Math.PI / 5.2);
        }
      }
    ]
  },
  options: {
    responsive: false, animation: false, devicePixelRatio: 1,
    layout: { autoPadding: false, padding: { right: 4, bottom: 4, top: 0, left: 0 } },
    plugins: { legend: { display: false }, tooltip: { enabled: false } },
    scales: {
      x: {
        type: 'category', position: 'top', labels: corrCols, offset: true, afterFit: pin(93.6),
        grid: { offset: true, color: '#d2d2d2', lineWidth: 1, drawTicks: false },
        border: { color: '#d2d2d2' },
        ticks: {
          autoSkip: false, minRotation: 90, maxRotation: 90, padding: 3, color: '#ee3f4d',
          font: { family: NARROW, size: 5.3, lineHeight: 1.2 },
          callback: (v, i) => corrCols[i].split('\n')
        }
      },
      y: {
        type: 'category', labels: corrRows, offset: true, afterFit: pin(105),
        grid: { offset: true, color: '#d2d2d2', lineWidth: 1, drawTicks: false },
        border: { color: '#d2d2d2' },
        ticks: { autoSkip: false, padding: 4, color: '#ee3f4d', font: { family: FONT, size: 6.5 } }
      }
    }
  }
});
redBox(44, 116, 106, 125);
redBox(45, 167.5, 105, 179.5);
redBox(47, 240, 106, 250.5);
// correlation colour bar
box(619, 93.6, 20, 178.4, 'background:linear-gradient(to top,' + rdBu.join(',') + ');border:1px solid #666;');
corrTicks.forEach((t, i) => {
  const y = 93.6 + i * 17.84;
  box(639, y, 2.5, 1, 'background:#777;');
  text(661, y, t, 'font-size:5px;transform:translate(-50%,-50%);color:#444;');
});

// ---------- volcanoes ----------
function volcano(cfg) {
  const x0 = cfg.left - cfg.axisW, top = cfg.top - 12;
  const w = cfg.axisW + cfg.right - cfg.left + 6, h = 12 + cfg.bottom - cfg.top + 22;
  const radius = p => 0.8 + p[2] * 1.05;
  const mark = color => ctx => oval(radius(ctx.raw.p), radius(ctx.raw.p) * .85, color);
  const pts = list => list.map(p => ({ x: p[0], y: p[1], p }));
  const series = (list, color) => ({ data: pts(list), pointRadius: 3, pointStyle: mark(color) });
  const guide = (a, b) => ({ data: [a, b], showLine: true, pointRadius: 0, borderColor: '#aeaeae', borderWidth: 1, borderDash: [3, 2, 1, 2] });
  new Chart(addCanvas(x0, top, w, h), {
    type: 'scatter',
    data: {
      datasets: [
        series(cfg.up, 'rgba(255,0,0,.5)'), series(cfg.down, 'rgba(0,255,0,.5)'), series(cfg.none, 'rgba(186,186,186,.92)'),
        guide({ x: -1, y: cfg.yMin }, { x: -1, y: cfg.yMax }),
        guide({ x: 1, y: cfg.yMin }, { x: 1, y: cfg.yMax }),
        guide({ x: cfg.xMin, y: 1.3 }, { x: cfg.xMax, y: 1.3 })
      ]
    },
    options: {
      responsive: false, animation: false, devicePixelRatio: 1,
      layout: { autoPadding: false, padding: { right: 6, top: 0, bottom: 0, left: 0 } },
      plugins: {
        legend: { display: false }, tooltip: { enabled: false },
        title: { display: true, text: cfg.title, fullSize: false, color: '#333', padding: { top: 0, bottom: 0 }, font: { family: FONT, size: 11, weight: 'normal', lineHeight: '12px' } }
      },
      scales: {
        x: {
          type: 'linear', min: cfg.xMin, max: cfg.xMax, afterFit: pin(22), afterBuildTicks: setTicks(cfg.xTicks),
          grid: { drawOnChartArea: false, tickLength: 3, tickColor: '#777' }, border: { display: false },
          ticks: { autoSkip: false, maxRotation: 0, padding: 1, color: '#555', font: { family: FONT, size: 7.4 }, callback: v => String(v).replace('-', '−') },
          title: { display: true, text: 'log2(fold change)', color: '#333', padding: { top: 0, bottom: 3 }, font: { family: FONT, size: 8.6, lineHeight: '10px' } }
        },
        y: {
          type: 'linear', min: cfg.yMin, max: cfg.yMax, afterFit: pin(cfg.axisW), afterBuildTicks: setTicks(cfg.yTicks),
          grid: { drawOnChartArea: false, tickLength: 3, tickColor: '#777' }, border: { display: false },
          ticks: { autoSkip: false, padding: 2, color: '#555', font: { family: FONT, size: 7.4 }, callback: v => cfg.yFormat(v) },
          title: { display: true, text: '−log10(pvalue)', color: '#333', padding: { top: 1, bottom: 0 }, font: { family: NARROW, size: 7.5, lineHeight: '10px' } }
        }
      }
    },
    plugins: [framePlugin]
  });
}
volcano({ title: 'A.vs.B', up: bUp, down: bDown, none: bNone.concat(bNoneDense), left: 25, right: 206, top: 344, bottom: 506, axisW: 23,
  xMin: -6.6, xMax: 6.6, yMin: -.17, yMax: 3.49, xTicks: [-6, -3, 0, 3, 6], yTicks: [0, 1, 2, 3], yFormat: v => String(v) });
volcano({ title: 'A.vs.C', up: cUp, down: cDown, none: cNone.concat(cNoneDense), left: 65.3, right: 238.7, top: 680.3, bottom: 846.7, axisW: 35,
  xMin: -8.75, xMax: 8.75, yMin: -.5, yMax: 10.87, xTicks: [-5, 0, 5], yTicks: [0, 2.5, 5, 7.5, 10], yFormat: v => v.toFixed(1) });
volcano({ title: 'A.vs.D', up: dUp, down: dDown, none: dNone.concat(dNoneDense), left: 66, right: 239.3, top: 993.3, bottom: 1160.7, axisW: 35,
  xMin: -8.8, xMax: 8.8, yMin: -.59, yMax: 12.9, xTicks: [-5, 0, 5], yTicks: [0, 2.5, 5, 7.5, 10, 12.5], yFormat: v => v.toFixed(1) });

function volcanoLegend(x, titleY, names, rows, vipY, vipRows) {
  text(x, titleY, names[0], 'font-size:7px;font-weight:bold;color:#222;');
  const colors = ['#f00', '#0f0', '#b6b6b6'];
  const step = rows[1] - rows[0];
  rows.forEach((y, i) => {
    box(x - 1, y - step / 2, 15, step, 'background:#fff;border:1px solid #ccc;');
    box(x + 5, y - 1.3, 3, 2.6, 'border-radius:50%;background:' + colors[i] + ';');
    text(x + 16.5, y, names[i + 1], 'font-size:7.2px;color:#555;');
  });
  text(x, vipY, 'VIP', 'font-size:7px;font-weight:bold;color:#222;');
  const rx = [1.4, 2.5, 3.7, 5];
  vipRows.forEach((y, i) => {
    box(x - 1, y - 5.3, 15, 10.6, 'background:#fff;border:1px solid #ccc;');
    box(x + 6.5 - rx[i], y - rx[i] * .85, rx[i] * 2, rx[i] * 1.7, 'border-radius:50%;background:#000;');
    text(x + 16.5, y, String(i + 1), 'font-size:7px;color:#555;');
  });
}
volcanoLegend(218, 379, ['DE_Meta', 'UP', 'DW', 'NoDiff'], [389, 399.3, 409.7], 426.7, [436, 446.3, 456.7, 467.7]);
volcanoLegend(251.5, 716.7, ['DE_Meta', 'UP', 'DW', 'NoDiff'], [726.7, 737.3, 748], 765, [775.7, 786, 796.7, 807.7]);
volcanoLegend(253, 1030, ['DE_Me', 'UF', 'DV', 'No'], [1040.3, 1051, 1061.7], 1079, [1089.3, 1100, 1110.7, 1121.7]);

// ---------- dot plots ----------
function dotPlot(cfg) {
  const x0 = cfg.left - cfg.axisW, top = cfg.top - 15;
  const w = cfg.axisW + cfg.right - cfg.left + 10, h = 15 + cfg.bottom - cfg.top + 22;
  const rxOf = [0, 1.4, 3.9, 4.6, 5.4, 6.3];
  const points = [];
  cfg.terms.forEach((t, i) => {
    if (cfg.ratio[i] !== null) points.push({ x: cfg.ratio[i], y: t, n: cfg.number[i], p: cfg.pvalue[i] });
  });
  new Chart(addCanvas(x0, top, w, h), {
    type: 'scatter',
    data: {
      datasets: [{
        data: points, pointRadius: 3, clip: false,
        pointStyle: ctx => oval(rxOf[ctx.raw.n], rxOf[ctx.raw.n] * .72, heatColor((ctx.raw.p - cfg.pMin) / (cfg.pMax - cfg.pMin)))
      }]
    },
    options: {
      responsive: false, animation: false, devicePixelRatio: 1,
      layout: { autoPadding: false, padding: { right: 10, top: 0, bottom: 0, left: 0 } },
      plugins: {
        legend: { display: false }, tooltip: { enabled: false },
        title: { display: true, text: cfg.title, fullSize: false, align: 'start', color: '#333', padding: { top: 0, bottom: 3 }, font: { family: FONT, size: 11, weight: 'normal', lineHeight: '12px' } }
      },
      scales: {
        x: {
          type: 'linear', min: cfg.xMin, max: cfg.xMax, afterFit: pin(22), afterBuildTicks: setTicks(cfg.major.concat(cfg.minor)),
          grid: {
            tickLength: 3,
            color: '#fff',
            lineWidth: ctx => cfg.major.includes(ctx.tick.value) ? 1 : .5,
            tickColor: ctx => cfg.major.includes(ctx.tick.value) ? '#666' : 'rgba(0,0,0,0)'
          },
          border: { display: false },
          ticks: { autoSkip: false, maxRotation: 0, padding: 1, color: '#666', font: { family: FONT, size: 7 }, callback: v => cfg.major.includes(v) ? v.toFixed(cfg.digits) : '' },
          title: { display: true, text: 'Ratio', color: '#333', padding: { top: 0, bottom: 3 }, font: { family: FONT, size: 8.5, lineHeight: '10px' } }
        },
        y: {
          type: 'category', labels: cfg.terms, offset: true, afterFit: pin(cfg.axisW),
          grid: { offset: false, color: '#fff', lineWidth: 1, tickLength: 3, tickColor: '#666' },
          border: { display: false },
          ticks: { autoSkip: false, minRotation: 0, maxRotation: 0, padding: 2, color: '#666', font: { family: FONT, size: cfg.fontSize } },
          title: { display: true, text: 'Terms', color: '#333', padding: { top: 1, bottom: 0 }, font: { family: NARROW, size: 8, lineHeight: '10px' } }
        }
      }
    },
    plugins: [panelPlugin]
  });
}
dotPlot({ title: 'A.vs.B_pos', terms: bTerms, ratio: bRatio, number: bNumber, pvalue: bPvalue, pMin: .17, pMax: 1.42,
  left: 497, right: 627.7, top: 304, bottom: 576.7, axisW: 212, fontSize: 7.15, digits: 2,
  xMin: .005, xMax: 1.048, major: [.25, .5, .75, 1], minor: [.125, .375, .625, .875] });
dotPlot({ title: 'A.vs.C_pos', terms: cTerms, ratio: cRatio, number: cNumber, pvalue: cPvalue, pMin: .77, pMax: 2.12,
  left: 515, right: 622.7, top: 651.3, bottom: 910, axisW: 218, fontSize: 6.75, digits: 1,
  xMin: .388, xMax: 1.026, major: [.4, .6, .8, 1], minor: [.5, .7, .9] });
dotPlot({ title: 'A.vs.D_pos', terms: dTerms, ratio: dRatio, number: dNumber, pvalue: dPvalue, pMin: .42, pMax: 1.32,
  left: 512.7, right: 626.7, top: 947, bottom: 1221, axisW: 230, fontSize: 7.1, digits: 1,
  xMin: .342, xMax: 1.0285, major: [.4, .6, .8, 1], minor: [.5, .7, .9] });

redBox(348, 387, 497.3, 401);
redBox(397.7, 679, 515.7, 691.5, 2);
redBox(384, 807, 514.5, 820.5, 2);
redBox(433.7, 858.7, 512.5, 871.7, 2);
redBox(388, 977, 515.7, 988.5, 2);

function numberLegend(x, titleY, rows, labelX) {
  text(x, titleY, 'Number', 'font-size:8.7px;color:#222;');
  const rx = [1.4, 3.9, 4.6, 5.4, 6.3];
  rows.forEach((y, i) => {
    box(x, y - 5.5, 15.5, 11, 'background:#f2f2f2;');
    box(x + 7.7 - rx[i], y - rx[i] * .72, rx[i] * 2, rx[i] * 1.44, 'border-radius:50%;background:#000;');
    text(labelX, y, String(i + 1), 'font-size:6.5px;color:#444;');
  });
}
function heatLegend(x, titleY, y0, y1, ticks, labelX) {
  text(x, titleY, '-log10(Pvalue)', 'font-size:8.5px;color:#222;');
  const stops = heat.map(s => s[1] + ' ' + (s[0] * 100) + '%').join(',');
  box(x, y0, 15.5, y1 - y0, 'background:linear-gradient(to top,' + stops + ');');
  ticks.forEach(t => text(labelX, t[1], t[0], 'font-size:6.5px;color:#444;'));
}
numberLegend(643, 372.7, [383.7, 394.7, 406, 417, 428.3], 661);
heatLegend(643, 451, 456.7, 511.7, [['1.0', 475.3], ['0.5', 497.3]], 662.7);
numberLegend(637.7, 716.3, [727, 737.3, 747.7, 758.3, 769], 655);
heatLegend(637.7, 791, 796, 848, [['2.0', 800.7], ['1.6', 816.7], ['1.2', 832], ['0.8', 847.3]], 656.7);
heatLegend(642.7, 1016.7, 1021, 1077, [['1.2', 1029], ['1.0', 1041.3], ['0.8', 1054], ['0.6', 1066]], 662.7);
numberLegend(642.7, 1094.3, [1105.7, 1116.7, 1128, 1139, 1150.3], 660.7);
box(702, 689.5, 1.5, 1.5, 'background:#f33;');

// panel letters
const letter = 'font-family:"Liberation Serif",serif;font-weight:bold;font-size:10.5px;color:#111;';
text(8, 5.5, 'A', letter);
text(10.5, 285.5, 'B', letter);
text(28, 652.7, 'C', letter);
text(28.5, 951.7, 'D', letter);
</script>
</body>
</html>
